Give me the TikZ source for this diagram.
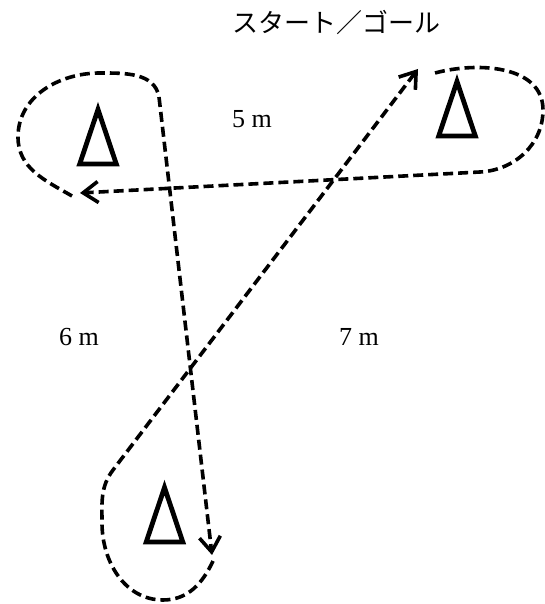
\documentclass[tikz,border=0pt]{standalone}
\usepackage{fontspec}
\setmainfont{Liberation Serif}
\newfontfamily\jpfont{Noto Sans CJK JP}
\usepackage{tikz}
\usetikzlibrary{arrows.meta,positioning}
\tikzset{
  >={Straight Barb[length=15pt,width=21pt]},
  route/.style={->,line width=3.6pt,dash pattern=on 10pt off 5pt},
  conestroke/.style={draw,line width=4.8pt,line join=miter},
  distlbl/.style={font=\fontsize{26pt}{28pt}\selectfont,inner sep=0pt},
  titlelbl/.style={font=\jpfont\fontsize{26pt}{28pt}\selectfont,inner sep=0pt},
  cone/.pic={\draw[conestroke] (0,27) -- (18.3,-27.5) -- (-18.3,-27.5) -- cycle;},
}

\begin{document}
\begin{tikzpicture}[x=1pt,y=1pt]
  \useasboundingbox (0,0) rectangle (545,604);
  % cones
  \pic (coneL) at (98,467.5) {cone};
  \pic (coneR) at (457,495.5) {cone};
  \pic (coneB) at (164.5,89.5) {cone};
  % way points of the run
  \coordinate (start) at (435,531);
  \coordinate (rgtE) at (543,494);
  \coordinate (rgtS) at (480,432);
  \coordinate (lftTip) at (80,411);
  \coordinate (lftS) at (72,408);
  \coordinate (lftW) at (18,467);
  \coordinate (lftN) at (100,531);
  \coordinate (lftE) at (159,507);
  \coordinate (botTip) at (212,49);
  \coordinate (botE) at (213,43);
  \coordinate (botS) at (163,4);
  \coordinate (botW) at (102,81);
  \coordinate (botN) at (113,134);
  \coordinate (goal) at (418,535);
  \draw[route] (start) to[out=15,in=90] (rgtE) to[out=-90,in=3] (rgtS) -- (lftTip);
  \draw[route] (lftS) to[out=150,in=-90] (lftW) to[out=90,in=180] (lftN)
    to[out=0,in=100] (lftE) -- (botTip);
  \draw[route] (botE) to[out=-115,in=0] (botS) to[out=180,in=-90] (botW)
    to[out=90,in=-127] (botN) -- (goal);
  % labels
  \node[titlelbl] (title) at (336,581) {スタート／ゴール};
  \node[distlbl] (lenA) at (252,485) {5 m};
  \node[distlbl] (lenB) at (79,267) {6 m};
  \node[distlbl] (lenC) at (359,267) {7 m};
\end{tikzpicture}
\end{document}
